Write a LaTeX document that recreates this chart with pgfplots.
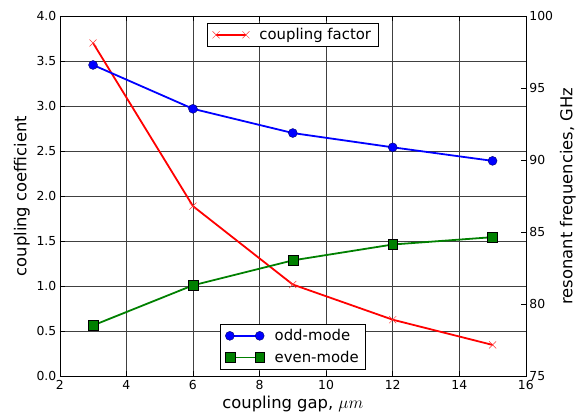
\documentclass[border=0pt]{standalone}
\usepackage{fontspec}
\setmainfont{DejaVu Sans}
\usepackage{pgfplots}
\pgfplotsset{compat=1.18}

\definecolor{mplgreen}{rgb}{0,0.5,0}

\pgfplotsset{
  twin/.style={
    scale only axis,
    width=468bp, height=362bp,
    xmin=2, xmax=16,
    xtick={2,4,...,16},
    tick align=inside,
    major tick length=5bp,
    tick style={black, line width=0.5bp},
    tick label style={font=\fontsize{12.5}{14}\selectfont},
    label style={font=\fontsize{16.5}{19}\selectfont},
    /pgf/number format/assume math mode=true,
    legend style={font=\fontsize{15}{17}\selectfont, draw=black,
      line width=0.6bp, inner xsep=5bp, inner ysep=3bp,
      row sep=5bp, cells={anchor=west},
      /tikz/every odd column/.append style={column sep=8bp}},
    legend image code/.code={
      \draw[#1] plot coordinates {(0bp,0bp) (30bp,0bp)};
    },
  },
}

\begin{document}
\begin{tikzpicture}
\begin{axis}[twin,
  name=left,
  ymin=0, ymax=4,
  ytick={0,0.5,...,4},
  ytick pos=left,
  yticklabel style={/pgf/number format/fixed,
    /pgf/number format/precision=1,
    /pgf/number format/fixed zerofill},
  grid=major,
  grid style={black!75, line width=0.5bp},
  xlabel={coupling gap, $\mu m$},
  ylabel={coupling coefficient},
  legend style={at={(0.5,0.98)}, anchor=north},
]
\addplot[red, line width=1.8bp, mark=x,
  mark options={mark size=5bp, line width=0.5bp, red!80}]
  coordinates {(3,3.70) (6,1.89) (9,1.02) (12,0.63) (15,0.35)};
\addlegendentry{coupling factor}
\end{axis}

\begin{axis}[twin,
  axis x line=none,
  axis y line*=right,
  ymin=75, ymax=100,
  ytick={75,80,...,100},
  ylabel={resonant frequencies, GHz},
  legend style={at={(0.5,0.02)}, anchor=south},
]
\addplot[blue, line width=1.8bp, mark=*,
  mark options={mark size=4.5bp, draw=black!60!blue, fill=blue, line width=0.4bp}]
  coordinates {(3,96.60) (6,93.56) (9,91.88) (12,90.89) (15,89.95)};
\addlegendentry{odd-mode}
\addplot[mplgreen, line width=1.8bp, mark=square*,
  mark options={mark size=5bp, draw=black, fill=mplgreen, line width=0.4bp}]
  coordinates {(3,78.54) (6,81.32) (9,83.05) (12,84.15) (15,84.66)};
\addlegendentry{even-mode}
\end{axis}

\path (left.south west) ++(-60bp,-43bp) (left.north east) ++(51bp,16bp);
\end{tikzpicture}
\end{document}
